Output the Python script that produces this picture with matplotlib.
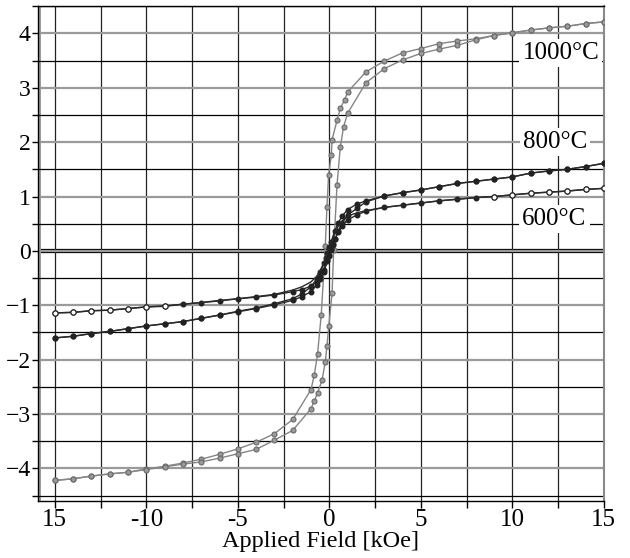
import matplotlib
matplotlib.use("Agg")
import matplotlib.pyplot as plt
from matplotlib.ticker import MultipleLocator, FixedLocator

plt.rcParams["font.family"] = ["Liberation Serif", "DejaVu Serif"]

# 1000 C loop, descending branch (+15 -> -15) and ascending branch (-15 -> +15)
h1000_down = [15, 14, 13, 12, 11, 10, 9, 8, 7, 6, 5, 4, 3, 2, 1,
              0.84, 0.6, 0.42, 0.15, 0.11, -0.04, -0.13, -0.22, -0.44, -0.64, -0.82,
              -1, -2, -3, -4, -5, -6, -7, -8, -9, -10, -11, -12, -13, -14, -15]
m1000_down = [4.21, 4.18, 4.13, 4.10, 4.06, 4.01, 3.96, 3.90, 3.86, 3.81, 3.72, 3.64, 3.49, 3.29, 2.92,
              2.78, 2.62, 2.40, 2.04, 1.76, 1.39, 0.81, 0.09, -1.17, -1.89, -2.28,
              -2.55, -3.10, -3.36, -3.52, -3.64, -3.74, -3.83, -3.90, -3.96, -4.01, -4.07, -4.10, -4.14, -4.19, -4.22]
h1000_up = [-15, -14, -13, -12, -11, -10, -9, -8, -7, -6, -5, -4, -3, -2, -1,
            -0.82, -0.64, -0.40, -0.22, -0.13, -0.03, 0.15, 0.24, 0.42, 0.6, 0.78,
            1, 2, 3, 4, 5, 6, 7, 8, 9, 10, 11, 12, 13, 14, 15]
m1000_up = [-4.22, -4.19, -4.14, -4.10, -4.07, -4.02, -3.97, -3.92, -3.88, -3.81, -3.73, -3.65, -3.48, -3.30, -2.90,
            -2.76, -2.61, -2.38, -2.04, -1.75, -1.39, -0.78, 0.02, 1.21, 1.91, 2.28,
            2.53, 3.09, 3.35, 3.51, 3.63, 3.71, 3.78, 3.88, 3.96, 4.01, 4.06, 4.10, 4.13, 4.18, 4.21]

# 800 C and 600 C loops share the same field steps
h_down = [15, 14, 13, 12, 11, 10, 9, 8, 7, 6, 5, 4, 3, 2,
          1.5, 1.0, 0.7, 0.5, 0.3, 0.1, 0, -0.1, -0.2, -0.3, -0.5, -0.7, -1.0, -1.5,
          -2, -3, -4, -5, -6, -7, -8, -9, -10, -11, -12, -13, -14, -15]
h_up = [-15, -14, -13, -12, -11, -10, -9, -8, -7, -6, -5, -4, -3, -2,
        -1.5, -1.0, -0.7, -0.5, -0.3, -0.1, 0, 0.1, 0.2, 0.3, 0.5, 0.7, 1.0, 1.5,
        2, 3, 4, 5, 6, 7, 8, 9, 10, 11, 12, 13, 14, 15]
m800_down = [1.61, 1.55, 1.50, 1.47, 1.43, 1.36, 1.32, 1.28, 1.24, 1.18, 1.12, 1.07, 1.01, 0.92,
             0.86, 0.76, 0.64, 0.52, 0.37, 0.17, 0.07, -0.03, -0.13, -0.23, -0.39, -0.52, -0.66, -0.79,
             -0.88, -0.97, -1.05, -1.11, -1.18, -1.24, -1.30, -1.34, -1.38, -1.43, -1.48, -1.52, -1.57, -1.60]
m800_up = [-1.60, -1.57, -1.52, -1.48, -1.43, -1.38, -1.34, -1.30, -1.24, -1.18, -1.12, -1.06, -0.99, -0.91,
           -0.84, -0.75, -0.63, -0.52, -0.38, -0.19, -0.09, 0.01, 0.11, 0.21, 0.37, 0.51, 0.66, 0.78,
           0.90, 1.01, 1.07, 1.12, 1.18, 1.24, 1.28, 1.32, 1.36, 1.43, 1.47, 1.50, 1.55, 1.61]
m600_down = [1.15, 1.13, 1.10, 1.08, 1.06, 1.03, 1.00, 0.98, 0.95, 0.92, 0.88, 0.84, 0.80, 0.74,
             0.70, 0.64, 0.55, 0.46, 0.33, 0.15, 0.06, -0.04, -0.13, -0.22, -0.36, -0.47, -0.57, -0.66,
             -0.72, -0.80, -0.84, -0.88, -0.91, -0.95, -0.98, -1.02, -1.03, -1.06, -1.09, -1.10, -1.13, -1.14]
m600_up = [-1.14, -1.13, -1.10, -1.09, -1.06, -1.03, -1.01, -0.98, -0.95, -0.92, -0.88, -0.85, -0.81, -0.75,
           -0.71, -0.65, -0.57, -0.48, -0.35, -0.17, -0.07, 0.03, 0.12, 0.21, 0.35, 0.46, 0.57, 0.66,
           0.73, 0.80, 0.84, 0.88, 0.92, 0.95, 0.98, 1.00, 1.03, 1.06, 1.08, 1.10, 1.13, 1.15]

labels = ["1000°C", "800°C", "600°C"]
label_pos = [(12.65, 3.63), (12.35, 2.0), (12.3, 0.59)]
xtick_vals = [-15, -10, -5, 0, 5, 10, 15]
xtick_text = ["15", "-10", "-5", "0", "5", "10", "15"]

fig = plt.figure(figsize=(6.3, 5.58), dpi=100)
ax = fig.add_axes([0.060, 0.102, 0.899, 0.887])

ax.set_xlim(-15.93, 15.02)
ax.set_ylim(-4.6, 4.5)

# grid: integer rows gray and heavy, half rows and all columns thin black
ax.yaxis.set_major_locator(MultipleLocator(1))
ax.yaxis.set_minor_locator(MultipleLocator(0.5))
ax.xaxis.set_major_locator(FixedLocator(xtick_vals))
ax.xaxis.set_minor_locator(MultipleLocator(2.5))
ax.grid(axis="y", which="major", color="#9a9a9a", lw=1.6, zorder=0)
ax.grid(axis="y", which="minor", color="black", lw=0.9, zorder=0)
ax.grid(axis="x", which="both", color="#222222", lw=0.9, zorder=0)
ax.axhline(0.04, color="black", lw=0.9, zorder=1)
ax.axhline(-0.02, color="black", lw=0.9, zorder=1)
ax.axvline(-15.83, color="#9a9a9a", lw=1.4, zorder=1)

gray = "#858585"
ax.plot(h1000_down, m1000_down, color=gray, lw=1.0, marker="o", ms=3.6,
        mfc="#9a9a9a", mec="#6a6a6a", mew=0.8, zorder=3)
ax.plot(h1000_up, m1000_up, color=gray, lw=1.0, marker="o", ms=3.6,
        mfc="#9a9a9a", mec="#6a6a6a", mew=0.8, zorder=3)

for h, m in [(h_up, m800_up), (h_down, m800_down)]:
    ax.plot(h, m, color="#2a2a2a", lw=1.0, marker="o", ms=3.3,
            mfc="#222222", mec="#222222", zorder=4)

ax.plot(h_up, m600_up, color="#2a2a2a", lw=1.0, marker="o", ms=3.3,
        mfc="#222222", mec="#222222", zorder=4)
far = [i for i, h in enumerate(h_down) if abs(h) >= 9]
ax.plot(h_down, m600_down, color="#2a2a2a", lw=1.0, marker="o", ms=3.8,
        mfc="white", mec="#222222", mew=0.9, markevery=far, zorder=5)

for txt, (x, y) in zip(labels, label_pos):
    ax.text(x, y, txt, fontsize=18, ha="center", va="center", zorder=6,
            bbox=dict(boxstyle="square,pad=0.12", fc="white", ec="none"))

ax.set_xticklabels(xtick_text)
ax.tick_params(axis="x", which="both", direction="out", length=5, width=1,
               labelsize=18, pad=1)
ax.tick_params(axis="y", which="both", direction="out", length=4, width=1,
               labelsize=17, pad=1)
ax.set_xlabel("Applied Field [kOe]", fontsize=17.5, labelpad=0)

for sp in ax.spines.values():
    sp.set_color("black")
    sp.set_linewidth(1.0)
ax.spines["right"].set_color("#8a8a8a")
ax.spines["right"].set_linewidth(1.5)

fig.savefig("out.png", dpi=100, facecolor="white")
